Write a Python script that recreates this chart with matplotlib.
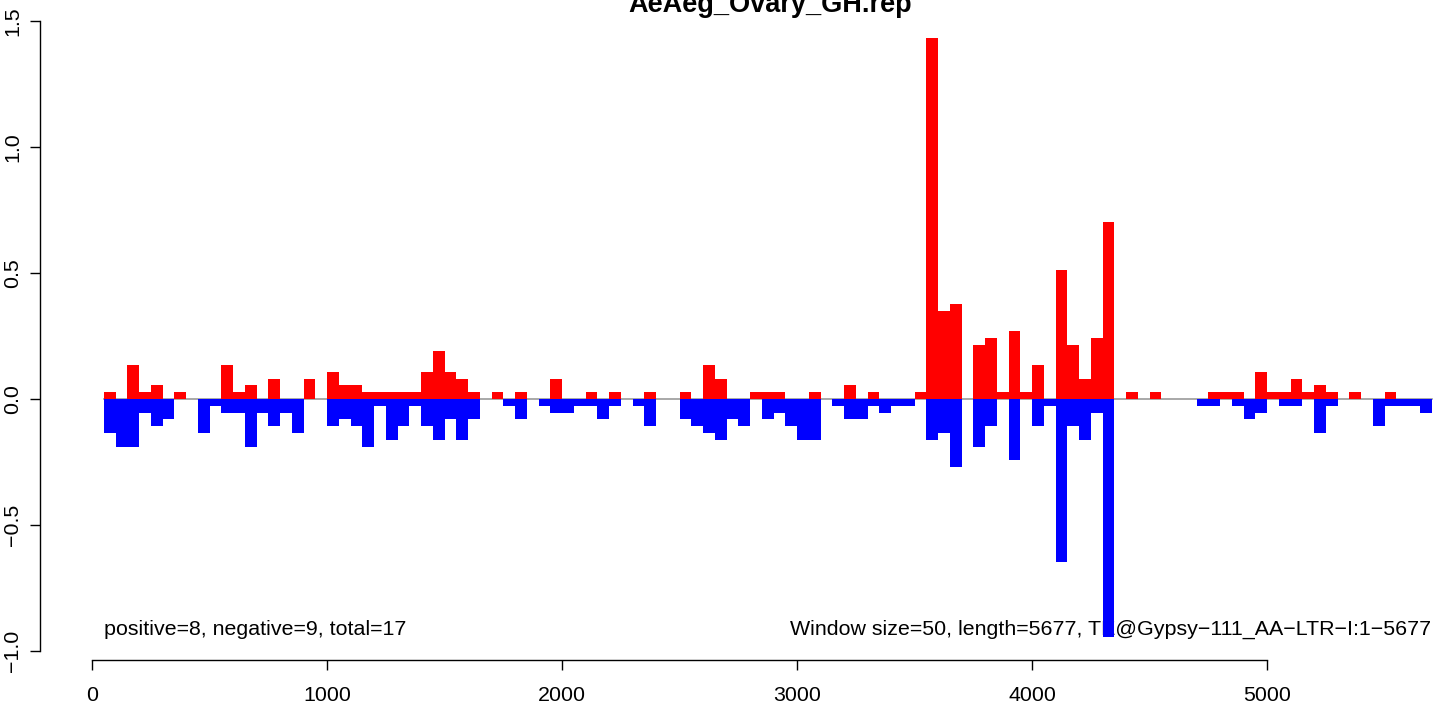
import numpy as np
import matplotlib
matplotlib.use("Agg")
import matplotlib.pyplot as plt

plt.rcParams['font.family'] = ['Liberation Sans', 'DejaVu Sans']

title = "AeAeg_Ovary_GH.rep"
window = 50
seq_length = 5677

positive = [
    0.027, 0, 0.135, 0.027, 0.054, 0, 0.027, 0, 0, 0,
    0.135, 0.027, 0.054, 0, 0.081, 0, 0, 0.081, 0, 0.108,
    0.054, 0.054, 0.027, 0.027, 0.027, 0.027, 0.027, 0.108, 0.189, 0.108,
    0.081, 0.027, 0, 0.027, 0, 0.027, 0, 0, 0.081, 0,
    0, 0.027, 0, 0.027, 0, 0, 0.027, 0, 0, 0.027,
    0, 0.135, 0.081, 0, 0, 0.027, 0.027, 0.027, 0, 0,
    0.027, 0, 0, 0.054, 0, 0.027, 0, 0, 0, 0.027,
    1.431, 0.351, 0.378, 0, 0.216, 0.243, 0.027, 0.270, 0.027, 0.135,
    0, 0.513, 0.216, 0.081, 0.243, 0.702, 0, 0.027, 0, 0.027,
    0, 0, 0, 0, 0.027, 0.027, 0.027, 0, 0.108, 0.027,
    0.027, 0.081, 0.027, 0.054, 0.027, 0, 0.027, 0, 0, 0.027,
    0, 0, 0,
]
negative = [
    -0.135, -0.189, -0.189, -0.054, -0.108, -0.081, 0, 0, -0.135, -0.027,
    -0.054, -0.054, -0.189, -0.054, -0.108, -0.054, -0.135, 0, 0, -0.108,
    -0.081, -0.108, -0.189, -0.027, -0.162, -0.108, -0.027, -0.108, -0.162, -0.081,
    -0.162, -0.081, 0, 0, -0.027, -0.081, 0, -0.027, -0.054, -0.054,
    -0.027, -0.027, -0.081, -0.027, 0, -0.027, -0.108, 0, 0, -0.081,
    -0.108, -0.135, -0.162, -0.081, -0.108, 0, -0.081, -0.054, -0.108, -0.162,
    -0.162, 0, -0.027, -0.081, -0.081, -0.027, -0.054, -0.027, -0.027, 0,
    -0.162, -0.135, -0.270, 0, -0.189, -0.108, 0, -0.243, 0, -0.108,
    -0.027, -0.648, -0.108, -0.162, -0.054, -0.945, 0, 0, 0, 0,
    0, 0, 0, -0.027, -0.027, 0, -0.027, -0.081, -0.054, 0,
    -0.027, -0.027, 0, -0.135, -0.027, 0, 0, 0, -0.108, -0.027,
    -0.027, -0.027, -0.054,
]
x_ticks = [0, 1000, 2000, 3000, 4000, 5000]
y_ticks = [-1.0, -0.5, 0.0, 0.5, 1.0, 1.5]

starts = window * np.arange(1, len(positive) + 1)

W, H = 1444, 708
fig = plt.figure(figsize=(W / 100, H / 100), dpi=100)
ax = fig.add_axes([40 / W, 48 / H, 1 - 40 / W, 1 - 48 / H])

# data->pixel: x0 at px 92, 0.235 px per unit ; y0 at px 399, 252 px per unit
ax.set_xlim((40 - 92) / 0.235, (1444 - 92) / 0.235)
ax.set_ylim((399 - 660) / 252, 399 / 252)

ax.plot([starts[0], starts[-1] + window], [0, 0], color='#999999', lw=1.2, zorder=1)
ax.bar(starts, positive, width=window, align='edge', color='#FF0000', linewidth=0, zorder=2)
ax.bar(starts, negative, width=window, align='edge', color='#0000FF', linewidth=0, zorder=2)

for s in ['top', 'right']:
    ax.spines[s].set_visible(False)
ax.spines['left'].set_bounds(-1.0, 1.5)
ax.spines['bottom'].set_bounds(0, 5000)
for s in ['left', 'bottom']:
    ax.spines[s].set_linewidth(1.0)
    ax.spines[s].set_color('black')

fs = 15.4
ax.set_xticks(x_ticks)
ax.set_xticklabels([str(t) for t in x_ticks])
ax.set_yticks(y_ticks)
ax.set_yticklabels([f"{t:.1f}".replace('-', '\u2212') for t in y_ticks],
                   rotation=90, va='center')
ax.tick_params(axis='both', direction='out', length=7, width=1.0, labelsize=fs,
               colors='black')
ax.tick_params(axis='x', pad=12)
ax.tick_params(axis='y', pad=6)

ax.text(starts[0], -0.913, "positive=8, negative=9, total=17",
        ha='left', va='center', fontsize=fs, zorder=1.5)
ax.text(starts[-1] + window, -0.913,
        f"Window size={window}, length={seq_length}, TE@Gypsy\u2212111_AA\u2212LTR\u2212I:1\u2212{seq_length}",
        ha='right', va='center', fontsize=fs, zorder=1.5)

fig.text(770 / W, 1 - 12 / H, title, ha='center', va='baseline',
         fontsize=19.5, fontweight='bold')

fig.savefig("out.png", dpi=100)
